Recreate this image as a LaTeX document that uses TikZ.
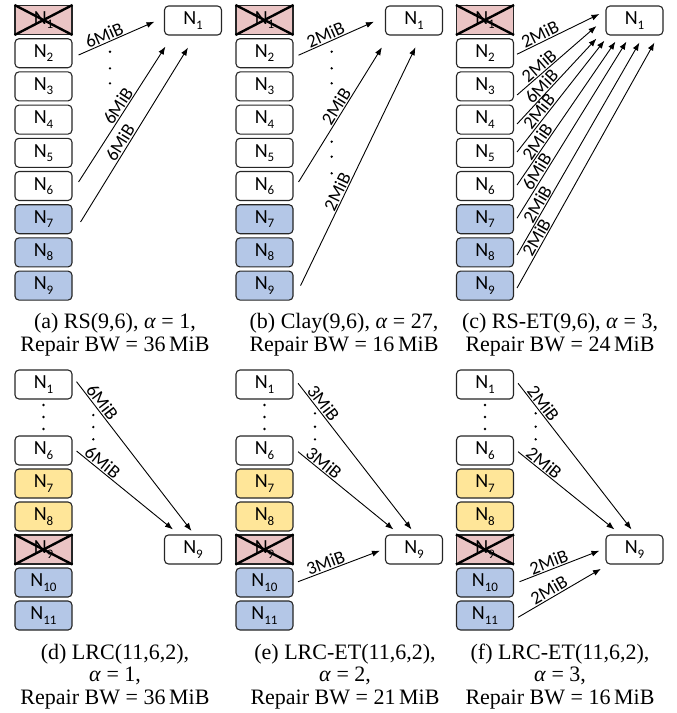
\documentclass[tikz,border=0pt]{standalone}
\usepackage{fontspec}
\setmainfont{Liberation Serif}
\newfontfamily\boxfont{Carlito}
\usetikzlibrary{arrows.meta,calc}
\definecolor{pinkf}{RGB}{234,196,196}
\definecolor{bluef}{RGB}{180,199,231}
\definecolor{yellowf}{RGB}{255,230,153}
\newcommand\nlab[1]{N\raisebox{-0.45ex}{\fontsize{13pt}{13pt}\selectfont #1}}
\newcommand\xout[1]{\draw[line width=2.4pt] (#1.north west) -- (#1.south east) (#1.north east) -- (#1.south west);}
\begin{document}
\begin{tikzpicture}[x=1pt,y=-1pt,
 nbox/.style={draw=black!85, line width=1.1pt, rounded corners=4pt, minimum width=57pt, minimum height=29pt, inner sep=0pt, font=\boxfont\fontsize{20pt}{20pt}\selectfont},
 wbox/.style={nbox, fill=white},
 bbox/.style={nbox, fill=bluef},
 ybox/.style={nbox, fill=yellowf},
 xbox/.style={nbox, rounded corners=0pt, fill=pinkf},
 flow/.style={-{Latex[length=8pt,width=6pt]}, line width=0.9pt},
 lab/.style={sloped, above, inner sep=1pt, font=\boxfont\fontsize{18.5pt}{18.5pt}\selectfont},
 captxt/.style={align=center, font=\fontsize{22pt}{22.5pt}\selectfont}
]
\useasboundingbox (0,0) rectangle (677,713);
% ---------- top row ----------
\foreach \p/\ox in {a/0,b/221,c/441.5}{
  \node[xbox] (\p1) at (43.5+\ox,20) {\nlab{1}};
  \xout{\p1}
  \foreach \i in {2,...,6} \node[wbox] (\p\i) at (43.5+\ox,{20+(\i-1)*33.2}) {\nlab{\i}};
  \foreach \i in {7,8,9} \node[bbox] (\p\i) at (43.5+\ox,{20+(\i-1)*33.2}) {\nlab{\i}};
  \node[wbox] (\p T) at (193+\ox,20.5) {\nlab{1}};
}
% (a)
\draw[flow] ($(a2.east)+(6,1.8)$) -- node[lab,pos=0.38]{6MiB} ($(aT.west)+(-9.5,1.2)$);
\draw[flow] ($(a6.east)+(6,-4)$) -- node[lab,pos=0.53]{6MiB} ($(aT.south west)+(1.5,11)$);
\draw[flow] ($(a7.east)+(8,2.8)$) -- node[lab,pos=0.43]{6MiB} ($(aT.south)+(-5,12)$);
\foreach \y in {51.7,68.3,83.3} \fill (110,\y) circle (1.3pt);
% (b)
\draw[flow] ($(b2.east)+(5,2)$) -- node[lab,pos=0.4]{2MiB} ($(bT.west)+(-11,1.2)$);
\draw[flow] ($(b6.east)+(5,-4)$) -- node[lab,pos=0.53]{2MiB} ($(bT.south west)+(-3,11.7)$);
\draw[flow] ($(b9.east)+(7,0)$) -- node[lab,pos=0.38]{2MiB} ($(bT.south)+(1.5,11.7)$);
\foreach \y in {51.7,68.3,83.3,141.7,156.7,173.3} \fill (331.7,\y) circle (1.3pt);
% (c)
\draw[flow] ($(c2.east)+(3,1)$) -- node[lab,pos=0.32]{2MiB} ($(cT.west)+(-6,-6.5)$);
\draw[flow] ($(c3.east)+(3,8.6)$) -- node[lab,pos=0.34]{2MiB} ($(cT.west)+(-9,5.5)$);
\draw[flow] ($(c4.east)+(3,4.4)$) -- node[lab,pos=0.38]{6MiB} ($(cT.south west)+(-9,3)$);
\draw[flow] ($(c5.east)+(3,-0.8)$) -- node[lab,pos=0.32]{2MiB} ($(cT.south west)+(-1,5)$);
\draw[flow] ($(c6.east)+(3,-1)$) -- node[lab,pos=0.27]{2MiB} ($(cT.south west)+(10,6)$);
\draw[flow] ($(c7.east)+(3,-1)$) -- node[lab,pos=0.24]{6MiB} ($(cT.south west)+(21,6)$);
\draw[flow] ($(c8.east)+(3,2.6)$) -- node[lab,pos=0.22]{2MiB} ($(cT.south west)+(34,7)$);
\draw[flow] ($(c9.east)+(3,2.4)$) -- node[lab,pos=0.19]{2MiB} ($(cT.south west)+(49,7)$);
% ---------- bottom row ----------
\foreach \p/\ox in {d/0,e/221,f/441.5}{
  \node[wbox] (\p1) at (43.5+\ox,384.5) {\nlab{1}};
  \node[wbox] (\p6) at (43.5+\ox,450.5) {\nlab{6}};
  \node[ybox] (\p7) at (43.5+\ox,483.5) {\nlab{7}};
  \node[ybox] (\p8) at (43.5+\ox,516.5) {\nlab{8}};
  \node[xbox] (\p9) at (43.5+\ox,549.5) {\nlab{9}};
  \xout{\p9}
  \node[bbox] (\p10) at (43.5+\ox,582.5) {\nlab{10}};
  \node[bbox] (\p11) at (43.5+\ox,615.5) {\nlab{11}};
  \node[wbox] (\p T) at (193+\ox,549.5) {\nlab{9}};
  \foreach \y in {405,417,429} \fill (43.5+\ox,\y) circle (1.3pt);
}
% (d)
\draw[flow] ($(d1.east)+(4,-2.8)$) -- node[lab,pos=0.17]{6MiB} ($(dT.north)+(-1.5,-3.5)$);
\draw[flow] ($(d6.east)+(4,0.5)$) -- node[lab,pos=0.22]{6MiB} ($(dT.north west)+(9,-5)$);
\foreach \y in {415,427,439.3} \fill (93.3,\y) circle (1.3pt);
% (e)
\draw[flow] ($(e1.east)+(4.5,-1.2)$) -- node[lab,pos=0.17]{3MiB} ($(eT.north)+(-2.5,-5)$);
\draw[flow] ($(e6.east)+(4.5,1.2)$) -- node[lab,pos=0.22]{3MiB} ($(eT.north west)+(8.5,-5)$);
\draw[flow] ($(e10.east)+(4.5,-0.8)$) -- node[lab,pos=0.37]{3MiB} ($(eT.west)+(-5,1.2)$);
\foreach \y in {413.3,426.7,439.3} \fill (315,\y) circle (1.3pt);
% (f)
\draw[flow] ($(f1.east)+(4,-1.2)$) -- node[lab,pos=0.17]{2MiB} ($(fT.north)+(-3,-5)$);
\draw[flow] ($(f6.east)+(4,1.2)$) -- node[lab,pos=0.22]{2MiB} ($(fT.north west)+(9,-5)$);
\draw[flow] ($(f10.east)+(5.5,-0.8)$) -- node[lab,pos=0.4]{2MiB} ($(fT.west)+(-6,1.2)$);
\draw[flow] ($(f11.east)+(4,1.8)$) -- node[lab,pos=0.42]{2MiB} ($(fT.south west)+(-4.5,4.3)$);
\foreach \y in {413.3,426.7,439.3} \fill (535.7,\y) circle (1.3pt);
% ---------- captions ----------
\node[captxt] (capa) at (115,334.5) {(a) RS(9,6), \textit{α} = 1,\\Repair BW = 36\,MiB};
\node[captxt] (capb) at (344,334.5) {(b) Clay(9,6), \textit{α} = 27,\\Repair BW = 16\,MiB};
\node[captxt] (capc) at (560,334.5) {(c) RS-ET(9,6), \textit{α} = 3,\\Repair BW = 24\,MiB};
\node[captxt] (capd) at (115,676.5) {(d) LRC(11,6,2),\\\textit{α} = 1,\\Repair BW = 36\,MiB};
\node[captxt] (cape) at (345,676.5) {(e) LRC-ET(11,6,2),\\\textit{α} = 2,\\Repair BW = 21\,MiB};
\node[captxt] (capf) at (560,676.5) {(f) LRC-ET(11,6,2),\\\textit{α} = 3,\\Repair BW = 16\,MiB};
\end{tikzpicture}
\end{document}
